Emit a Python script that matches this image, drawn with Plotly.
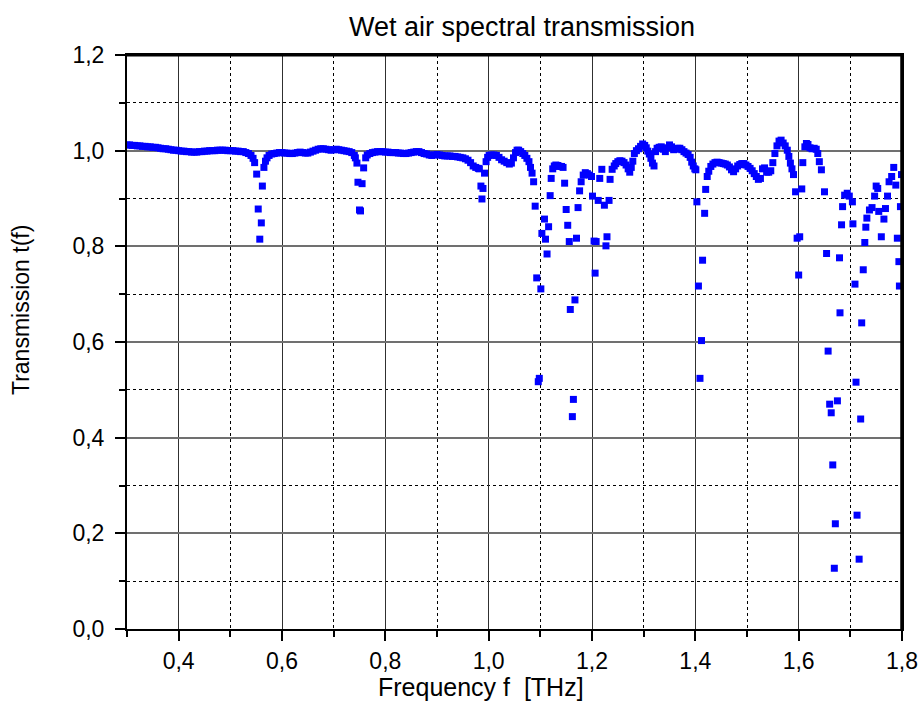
import plotly.graph_objects as go

# ---- data (frequency in THz, transmission) ----
f_seg1 = [0.300, 0.305, 0.310, 0.315, 0.320, 0.325, 0.330, 0.335, 0.340, 0.345,
          0.350, 0.355, 0.360, 0.365, 0.370, 0.375, 0.380, 0.385, 0.390, 0.395,
          0.400, 0.405, 0.410, 0.415, 0.420, 0.425, 0.430, 0.435, 0.440, 0.445,
          0.450, 0.455, 0.460, 0.465, 0.470, 0.475, 0.480, 0.485, 0.490, 0.495,
          0.500, 0.505, 0.510, 0.515, 0.520, 0.525, 0.530, 0.535, 0.540, 0.544,
          0.547, 0.551, 0.554, 0.557, 0.560, 0.562, 0.565, 0.568, 0.571, 0.575,
          0.580, 0.585]
t_seg1 = [1.012, 1.012, 1.011, 1.011, 1.010, 1.010, 1.009, 1.009, 1.008, 1.008,
          1.007, 1.007, 1.006, 1.005, 1.004, 1.004, 1.003, 1.002, 1.001, 1.001,
          1.000, 0.999, 0.999, 0.998, 0.998, 0.997, 0.997, 0.997, 0.998, 0.998,
          0.999, 0.999, 1.000, 1.000, 1.000, 1.001, 1.001, 1.001, 1.001, 1.000,
          1.000, 1.000, 0.999, 0.999, 0.998, 0.998, 0.996, 0.994, 0.990, 0.984,
          0.975, 0.951, 0.878, 0.815, 0.849, 0.926, 0.965, 0.978, 0.985, 0.990,
          0.993, 0.994]

f_seg2 = [0.590, 0.595, 0.600, 0.605, 0.610, 0.615, 0.620, 0.625, 0.630, 0.635,
          0.640, 0.645, 0.650, 0.655, 0.660, 0.665, 0.670, 0.675, 0.680, 0.685,
          0.690, 0.695, 0.700, 0.705, 0.710, 0.715, 0.720, 0.725, 0.730, 0.735,
          0.740, 0.742, 0.745, 0.747, 0.750, 0.752, 0.755, 0.758, 0.762, 0.765]
t_seg2 = [0.995, 0.996, 0.996, 0.995, 0.995, 0.994, 0.994, 0.995, 0.996, 0.997,
          0.996, 0.995, 0.995, 0.997, 0.999, 1.001, 1.003, 1.004, 1.004, 1.003,
          1.002, 1.001, 1.002, 1.003, 1.002, 1.001, 1.000, 0.999, 0.998, 0.996,
          0.990, 0.985, 0.974, 0.934, 0.876, 0.874, 0.931, 0.964, 0.985, 0.991]

f_seg3 = [0.770, 0.775, 0.780, 0.785, 0.790, 0.795, 0.800, 0.805, 0.810, 0.815,
          0.820, 0.825, 0.830, 0.835, 0.840, 0.845, 0.850, 0.855, 0.860, 0.865,
          0.870, 0.875, 0.880, 0.885, 0.890, 0.895, 0.900, 0.905, 0.910, 0.915,
          0.920, 0.925, 0.930, 0.935, 0.940, 0.945, 0.950, 0.955, 0.960, 0.965,
          0.970, 0.975, 0.980, 0.982, 0.985, 0.987, 0.989, 0.992, 0.995]
t_seg3 = [0.994, 0.996, 0.997, 0.998, 0.998, 0.998, 0.997, 0.997, 0.996, 0.996,
          0.996, 0.995, 0.995, 0.994, 0.994, 0.995, 0.996, 0.997, 0.998, 0.998,
          0.996, 0.994, 0.993, 0.991, 0.990, 0.991, 0.992, 0.991, 0.990, 0.989,
          0.989, 0.989, 0.988, 0.988, 0.987, 0.986, 0.985, 0.983, 0.980, 0.975,
          0.968, 0.965, 0.963, 0.962, 0.926, 0.899, 0.921, 0.953, 0.977]

f_seg4 = [0.998, 1.001, 1.005, 1.010, 1.015, 1.020, 1.025, 1.030, 1.035, 1.040,
          1.044, 1.048, 1.052, 1.055, 1.058, 1.062, 1.066, 1.070, 1.074, 1.078,
          1.081, 1.084, 1.087, 1.090, 1.093, 1.096, 1.098, 1.101, 1.103, 1.108,
          1.110, 1.113, 1.116, 1.119, 1.121, 1.124, 1.127, 1.130, 1.134, 1.137,
          1.141, 1.144, 1.147, 1.150, 1.153, 1.156, 1.158, 1.162, 1.164, 1.167,
          1.170, 1.173, 1.176, 1.179, 1.183, 1.187, 1.191, 1.195, 1.199, 1.201,
          1.204, 1.206, 1.208, 1.212, 1.215, 1.219, 1.224, 1.227, 1.229, 1.233,
          1.235, 1.239]
t_seg4 = [0.986, 0.990, 0.991, 0.991, 0.990, 0.986, 0.981, 0.978, 0.975, 0.972,
          0.974, 0.985, 0.996, 1.001, 1.001, 0.998, 0.994, 0.990, 0.984, 0.977,
          0.965, 0.953, 0.935, 0.884, 0.734, 0.517, 0.524, 0.711, 0.827, 0.857,
          0.815, 0.784, 0.841, 0.906, 0.942, 0.962, 0.968, 0.970, 0.969, 0.967,
          0.967, 0.965, 0.932, 0.877, 0.844, 0.810, 0.668, 0.444, 0.480, 0.688,
          0.817, 0.881, 0.916, 0.935, 0.949, 0.954, 0.952, 0.949, 0.946, 0.905,
          0.811, 0.744, 0.810, 0.896, 0.942, 0.961, 0.886, 0.801, 0.820, 0.896,
          0.940, 0.961]

f_seg5 = [1.243, 1.246, 1.250, 1.254, 1.258, 1.262, 1.266, 1.270, 1.273, 1.276,
          1.279, 1.282, 1.286, 1.290, 1.294, 1.298, 1.302, 1.305, 1.308, 1.311,
          1.314, 1.317, 1.320, 1.323, 1.326, 1.330, 1.334, 1.338, 1.342, 1.346,
          1.350, 1.354, 1.358, 1.362, 1.366, 1.370, 1.374, 1.378, 1.382, 1.386,
          1.390, 1.393, 1.396, 1.399, 1.401, 1.403, 1.406, 1.409, 1.412, 1.414,
          1.418, 1.420, 1.423, 1.426, 1.430]
t_seg5 = [0.968, 0.973, 0.977, 0.979, 0.978, 0.975, 0.970, 0.962, 0.955, 0.965,
          0.978, 0.994, 1.000, 1.004, 1.009, 1.014, 1.011, 1.006, 0.999, 0.993,
          0.984, 0.974, 0.968, 0.998, 1.005, 1.007, 1.008, 1.003, 0.998, 1.006,
          1.012, 1.008, 1.002, 1.003, 1.005, 1.005, 1.002, 0.998, 0.995, 0.992,
          0.986, 0.976, 0.968, 0.962, 0.960, 0.893, 0.717, 0.524, 0.603, 0.771,
          0.869, 0.919, 0.946, 0.957, 0.967]

f_seg6 = [1.434, 1.438, 1.442, 1.446, 1.450, 1.454, 1.458, 1.462, 1.466, 1.470,
          1.474, 1.478, 1.482, 1.486, 1.490, 1.494, 1.498, 1.502, 1.506, 1.510,
          1.514, 1.518, 1.522, 1.526, 1.530, 1.534, 1.538, 1.542, 1.546, 1.550,
          1.554, 1.558, 1.562, 1.566, 1.570, 1.574, 1.578, 1.581, 1.584, 1.587,
          1.590, 1.594, 1.597, 1.600, 1.602, 1.606, 1.608]
t_seg6 = [0.972, 0.975, 0.976, 0.975, 0.974, 0.973, 0.972, 0.970, 0.966, 0.960,
          0.956, 0.962, 0.968, 0.971, 0.973, 0.973, 0.970, 0.967, 0.963, 0.958,
          0.952, 0.946, 0.940, 0.942, 0.962, 0.964, 0.955, 0.955, 0.958, 0.975,
          0.994, 1.010, 1.020, 1.022, 1.016, 1.010, 1.001, 0.988, 0.974, 0.962,
          0.950, 0.914, 0.817, 0.740, 0.820, 0.920, 0.975]

f_seg7 = [1.612, 1.615, 1.618, 1.622, 1.626, 1.630, 1.634, 1.637, 1.640, 1.644,
          1.650, 1.654, 1.657, 1.660, 1.663, 1.666, 1.669, 1.671, 1.675, 1.679,
          1.680, 1.683, 1.685, 1.689, 1.694, 1.698, 1.704, 1.705, 1.709, 1.711,
          1.713, 1.717, 1.720, 1.722, 1.725, 1.728, 1.730, 1.732, 1.737, 1.742,
          1.747, 1.750, 1.753, 1.755, 1.760, 1.765, 1.768, 1.772, 1.775, 1.780,
          1.784, 1.788, 1.791, 1.794, 1.795, 1.797, 1.799]
t_seg7 = [1.008, 1.015, 1.013, 1.006, 1.004, 1.005, 1.003, 0.994, 0.977, 0.960,
          0.914, 0.785, 0.581, 0.470, 0.452, 0.343, 0.127, 0.220, 0.477, 0.776,
          0.661, 0.845, 0.883, 0.907, 0.911, 0.905, 0.893, 0.847, 0.721, 0.516,
          0.238, 0.146, 0.439, 0.640, 0.751, 0.808, 0.840, 0.859, 0.876, 0.881,
          0.905, 0.926, 0.921, 0.873, 0.820, 0.857, 0.879, 0.905, 0.935, 0.946,
          0.965, 0.928, 0.817, 0.768, 0.717, 0.883, 0.950]

f_segments = [f_seg1, f_seg2, f_seg3, f_seg4, f_seg5, f_seg6, f_seg7]
t_segments = [t_seg1, t_seg2, t_seg3, t_seg4, t_seg5, t_seg6, t_seg7]

title_text = "Wet air spectral transmission"
x_title = "Frequency f\u00a0 [THz]"
y_title = "Transmission t(f)"

freq, trans = [], []
for fs, ts in zip(f_segments, t_segments):
    assert len(fs) == len(ts), (len(fs), len(ts))
    freq += fs
    trans += ts

FONT = "Liberation Sans, Arial, Helvetica, sans-serif"

fig = go.Figure(go.Scatter(
    x=freq, y=trans, mode="markers",
    marker=dict(symbol="square", size=7, color="#0000ff", line=dict(width=0)),
    showlegend=False, hoverinfo="x+y"))

common_axis = dict(
    ticks="outside", ticklen=10, tickwidth=1.5, tickcolor="black",
    showline=True, linewidth=2, linecolor="black", mirror=True,
    zeroline=False, tickformat=".1f", automargin=False,
    tickfont=dict(family=FONT, size=23, color="black"),
)

fig.update_xaxes(
    range=[0.3, 1.8], tickmode="linear", tick0=0.4, dtick=0.2,
    showgrid=True, gridcolor="#303030", gridwidth=1,
    ticklabelstandoff=0,
    minor=dict(tick0=0.3, dtick=0.1, ticks="outside", ticklen=6, tickwidth=1.5,
               tickcolor="black", showgrid=True, gridcolor="black",
               griddash="dot", gridwidth=1),
    **common_axis)
fig.update_yaxes(
    range=[0, 1.2], tickmode="linear", tick0=0, dtick=0.2,
    showgrid=True, gridcolor="#707070", gridwidth=1.5,
    ticklabelstandoff=6,
    minor=dict(tick0=0, dtick=0.1, ticks="outside", ticklen=6, tickwidth=1.5,
               tickcolor="black", showgrid=True, gridcolor="black",
               griddash="dot", gridwidth=1),
    **common_axis)

fig.update_layout(
    width=923, height=713,
    margin=dict(l=127, r=21, t=55, b=84, pad=0),
    separators=", ",
    plot_bgcolor="white", paper_bgcolor="white",
    font=dict(family=FONT, color="black"),
    annotations=[
        dict(text=title_text, xref="paper", yref="paper", x=0.510, y=1.049,
             xanchor="center", yanchor="middle", showarrow=False,
             font=dict(family=FONT, size=27, color="black")),
        dict(text=x_title, xref="paper", yref="paper", x=0.457, y=-0.101,
             xanchor="center", yanchor="middle", showarrow=False,
             font=dict(family=FONT, size=25, color="black")),
        dict(text=y_title, xref="paper", yref="paper", x=-0.136, y=0.555,
             xanchor="center", yanchor="middle", showarrow=False, textangle=-90,
             font=dict(family=FONT, size=23, color="black")),
    ],
    shapes=[
        dict(type="line", xref="paper", yref="paper", x0=0, x1=1, y0=1, y1=1,
             line=dict(color="black", width=3)),
        dict(type="line", xref="paper", yref="paper", x0=1, x1=1, y0=0, y1=1,
             line=dict(color="black", width=3.5)),
    ],
)

fig.write_html("out.html")
